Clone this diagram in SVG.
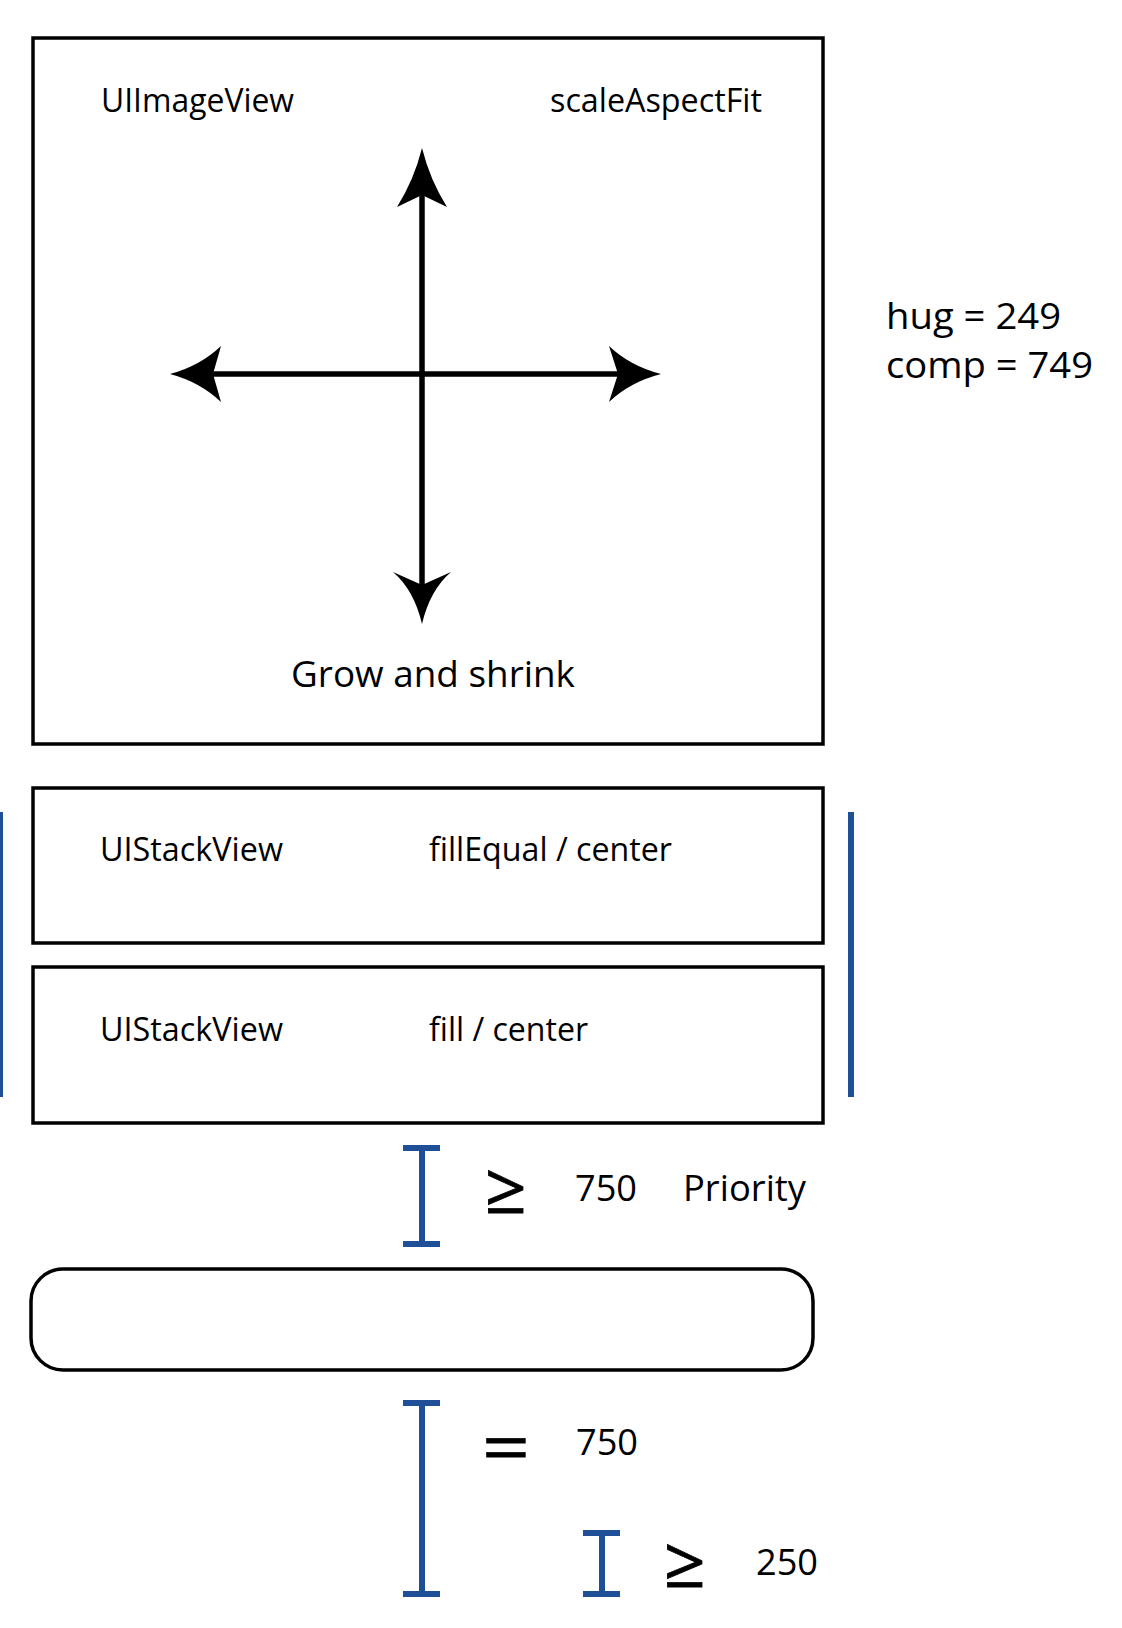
<svg xmlns="http://www.w3.org/2000/svg" width="1122" height="1628" viewBox="0 0 1122 1628">
  <style>
    .box { fill: #ffffff; stroke: #000000; stroke-width: 3.5; }
    .t { font-family: "Open Sans", "Liberation Sans", sans-serif; fill: #000000; }
    .s32 { font-size: 32px; }
    .s37 { font-size: 37px; }
    .sym { font-family: "Open Sans", "DejaVu Sans", sans-serif; font-size: 70px; fill: #000000; stroke: #000000; stroke-width: 0.8; }
    .axis { stroke: #000000; stroke-width: 5.5; fill: none; }
    .head { fill: #000000; }
    .blue { stroke: #1f4f96; stroke-width: 6; fill: none; }
    .cap { fill: #1f4f96; }
  </style>
  <rect width="1122" height="1628" fill="#ffffff"/>

  <g id="image-view">
    <rect class="box" x="33" y="38" width="790" height="706"/>
    <text class="t s32" x="101" y="112" textLength="193" lengthAdjust="spacingAndGlyphs">UIImageView</text>
    <text class="t s32" x="550" y="112" textLength="212" lengthAdjust="spacingAndGlyphs">scaleAspectFit</text>
    <text class="t s37" x="291" y="687" textLength="284" lengthAdjust="spacingAndGlyphs">Grow and shrink</text>
  </g>

  <g id="connectors">
    <line class="axis" x1="422" y1="192" x2="422" y2="588"/>
    <line class="axis" x1="210" y1="374" x2="621" y2="374"/>
    <path class="head" d="M422,148 Q430,180 447,207 L422,195 L397,207 Q414,180 422,148 Z"/>
    <path class="head" d="M422,624 Q430,590 451,572 L422,585 L393,572 Q414,590 422,624 Z"/>
    <path class="head" d="M170,374 Q200,366 221,346 L213,374 L221,402 Q200,382 170,374 Z"/>
    <path class="head" d="M661,374 Q630,366 609,346 L618,374 L609,402 Q630,382 661,374 Z"/>
  </g>

  <g id="hug-comp">
    <text class="t s37" x="886" y="329" textLength="175" lengthAdjust="spacingAndGlyphs">hug = 249</text>
    <text class="t s37" x="886" y="378" textLength="207" lengthAdjust="spacingAndGlyphs">comp = 749</text>
  </g>

  <g id="stack-view-1">
    <rect class="box" x="33" y="788" width="790" height="155"/>
    <text class="t s32" x="100" y="861" textLength="183" lengthAdjust="spacingAndGlyphs">UIStackView</text>
    <text class="t s32" x="429" y="861" textLength="243" lengthAdjust="spacingAndGlyphs">fillEqual / center</text>
  </g>

  <g id="stack-view-2">
    <rect class="box" x="33" y="967" width="790" height="156"/>
    <text class="t s32" x="100" y="1041" textLength="183" lengthAdjust="spacingAndGlyphs">UIStackView</text>
    <text class="t s32" x="429" y="1041" textLength="159" lengthAdjust="spacingAndGlyphs">fill / center</text>
  </g>

  <g id="stack-bounds">
    <line class="blue" x1="0" y1="812" x2="0" y2="1097"/>
    <line class="blue" x1="851" y1="812" x2="851" y2="1097"/>
  </g>

  <g id="spacing-top">
    <line class="blue" x1="422" y1="1148" x2="422" y2="1244"/>
    <rect class="cap" x="403" y="1145" width="37" height="6"/>
    <rect class="cap" x="403" y="1241" width="37" height="6"/>
    <text class="sym" x="485" y="1213" textLength="42" lengthAdjust="spacingAndGlyphs">≥</text>
    <text class="t s37" x="575" y="1201" textLength="62" lengthAdjust="spacingAndGlyphs">750</text>
    <text class="t s37" x="683" y="1201" textLength="123" lengthAdjust="spacingAndGlyphs">Priority</text>
  </g>

  <g id="rounded-view">
    <rect class="box" x="31" y="1269" width="782" height="101" rx="32" ry="32"/>
  </g>

  <g id="spacing-equal">
    <line class="blue" x1="422" y1="1403" x2="422" y2="1594"/>
    <rect class="cap" x="403" y="1400" width="37" height="6"/>
    <rect class="cap" x="403" y="1591" width="37" height="6"/>
    <text class="sym" x="482" y="1472" textLength="48" lengthAdjust="spacingAndGlyphs">=</text>
    <text class="t s37" x="576" y="1455" textLength="62" lengthAdjust="spacingAndGlyphs">750</text>
  </g>

  <g id="spacing-min">
    <line class="blue" x1="602" y1="1533" x2="602" y2="1594"/>
    <rect class="cap" x="583" y="1530" width="37" height="6"/>
    <rect class="cap" x="583" y="1591" width="37" height="6"/>
    <text class="sym" x="664" y="1587" textLength="42" lengthAdjust="spacingAndGlyphs">≥</text>
    <text class="t s37" x="756" y="1575" textLength="62" lengthAdjust="spacingAndGlyphs">250</text>
  </g>
</svg>
